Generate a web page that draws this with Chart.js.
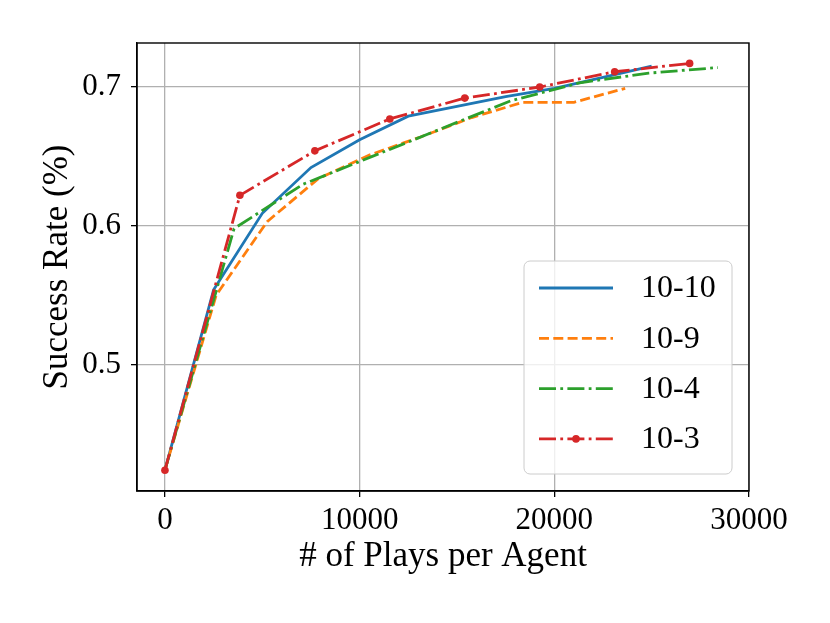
<!DOCTYPE html>
<html>
<head>
<meta charset="utf-8">
<script src="https://cdn.jsdelivr.net/npm/chart.js@4.4.1/dist/chart.umd.min.js"></script>
<style>
  html, body { margin: 0; padding: 0; background: #fff; }
  canvas { display: block; }
</style>
</head>
<body>
<canvas id="myChart" width="830" height="623"></canvas>
<script>
// values
const seriesNames = ["10-10", "10-9", "10-4", "10-3"];

const xBlue = [0, 2500, 5000, 7500, 10000, 12500, 15000, 17500, 20000, 22500, 25000];
const yBlue = [0.424, 0.554, 0.609, 0.642, 0.662, 0.679, 0.686, 0.693, 0.699, 0.707, 0.715];

const xOrange = [0, 2630, 5250, 7880, 10500, 13130, 15760, 18390, 21010, 23640];
const yOrange = [0.424, 0.550, 0.603, 0.634, 0.651, 0.664, 0.678, 0.689, 0.689, 0.699];

const xGreen = [0, 3550, 7100, 10650, 14200, 17750, 21300, 24850, 28400];
const yGreen = [0.424, 0.598, 0.630, 0.650, 0.670, 0.690, 0.703, 0.710, 0.714];

const xRed = [0, 3850, 7700, 11550, 15400, 19250, 23100, 26950];
const yRed = [0.424, 0.622, 0.654, 0.677, 0.692, 0.700, 0.711, 0.717];

const xTicks = [0, 10000, 20000, 30000];
const yTicks = [0.5, 0.6, 0.7];

const serif = "'Liberation Serif', 'DejaVu Serif', serif";
Chart.defaults.font.family = serif;
Chart.defaults.color = "#000";

function toPoints(xs, ys) {
  return xs.map((x, i) => ({ x: x, y: ys[i] }));
}

const data = {
  datasets: [
    {
      label: seriesNames[0],
      data: toPoints(xBlue, yBlue),
      borderColor: "#1f77b4",
      borderWidth: 2.8,
      pointRadius: 0,
      order: 3,
    },
    {
      label: seriesNames[1],
      data: toPoints(xOrange, yOrange),
      borderColor: "#ff7f0e",
      borderWidth: 2.8,
      borderDash: [10, 4.3],
      pointRadius: 0,
      order: 2,
    },
    {
      label: seriesNames[2],
      data: toPoints(xGreen, yGreen),
      borderColor: "#2ca02c",
      borderWidth: 2.8,
      borderDash: [17, 4.3, 2.8, 4.3],
      pointRadius: 0,
      order: 1,
    },
    {
      label: seriesNames[3],
      data: toPoints(xRed, yRed),
      borderColor: "#d62728",
      backgroundColor: "#d62728",
      borderWidth: 2.8,
      borderDash: [17, 4.3, 2.8, 4.3],
      pointRadius: 3.8,
      pointBorderWidth: 0,
      pointBackgroundColor: "#d62728",
      order: 0,
    },
  ],
};

// black box round the plot area
const framePlugin = {
  id: "frame",
  afterDatasetsDraw(chart) {
    const { ctx, chartArea: a } = chart;
    ctx.save();
    ctx.strokeStyle = "#000";
    ctx.lineWidth = 1.4;
    ctx.strokeRect(a.left, a.top, a.right - a.left, a.bottom - a.top);
    ctx.restore();
  },
};

// matplotlib-like legend in the lower right corner
const legendPlugin = {
  id: "mplLegend",
  afterDraw(chart) {
    const { ctx, chartArea: a } = chart;
    const w = 208, h = 213;
    const bx = a.right - 17 - w;
    const by = a.bottom - 17 - h;
    ctx.save();
    ctx.beginPath();
    ctx.roundRect(bx, by, w, h, 6);
    ctx.fillStyle = "rgba(255,255,255,0.8)";
    ctx.fill();
    ctx.strokeStyle = "#cccccc";
    ctx.lineWidth = 1;
    ctx.stroke();

    chart.data.datasets.forEach((ds, i) => {
      const y = by + 27 + i * 50.3;
      const x0 = bx + 15, x1 = bx + 89;
      ctx.beginPath();
      ctx.setLineDash(ds.borderDash || []);
      ctx.strokeStyle = ds.borderColor;
      ctx.lineWidth = ds.borderWidth;
      ctx.moveTo(x0, y);
      ctx.lineTo(x1, y);
      ctx.stroke();
      ctx.setLineDash([]);
      if (ds.pointRadius > 0) {
        ctx.beginPath();
        ctx.fillStyle = ds.pointBackgroundColor;
        ctx.arc((x0 + x1) / 2, y, ds.pointRadius, 0, Math.PI * 2);
        ctx.fill();
      }
      ctx.fillStyle = "#000";
      ctx.font = "32px " + serif;
      ctx.textBaseline = "middle";
      ctx.textAlign = "left";
      ctx.fillText(ds.label, bx + 117, y + 1);
    });
    ctx.restore();
  },
};

const config = {
  type: "line",
  data: data,
  options: {
    responsive: false,
    animation: false,
    devicePixelRatio: 1,
    layout: { padding: { left: 0, top: 43, right: 81, bottom: 0 } },
    plugins: {
      legend: { display: false },
      tooltip: { enabled: false },
    },
    elements: { line: { tension: 0 } },
    scales: {
      x: {
        type: "linear",
        position: "bottom",
        min: -1435,
        max: 30000,
        afterBuildTicks: (scale) => {
          scale.ticks = xTicks.map((v) => ({ value: v }));
        },
        afterFit: (scale) => {
          scale.height = 132;
        },
        ticks: {
          font: { size: 31 },
          padding: 5,
          maxRotation: 0,
          autoSkip: false,
          callback: (v) => String(v),
        },
        grid: {
          color: "#b0b0b0",
          lineWidth: 1.3,
          tickLength: 6,
          tickColor: "#000",
        },
        border: { color: "#000", width: 1.4 },
        title: {
          display: true,
          text: "# of Plays per Agent",
          font: { size: 35 },
          padding: { top: 0, bottom: 45 },
        },
      },
      y: {
        type: "linear",
        min: 0.409,
        max: 0.7317,
        afterBuildTicks: (scale) => {
          scale.ticks = yTicks.map((v) => ({ value: v }));
        },
        afterFit: (scale) => {
          scale.width = 137;
        },
        ticks: {
          font: { size: 31 },
          padding: 10,
          callback: (v) => v.toFixed(1),
        },
        grid: {
          color: "#b0b0b0",
          lineWidth: 1.3,
          tickLength: 6,
          tickColor: "#000",
        },
        border: { color: "#000", width: 1.4 },
        title: {
          display: true,
          text: "Success Rate (%)",
          font: { size: 35 },
          padding: { top: 37, bottom: 0 },
        },
      },
    },
  },
  plugins: [framePlugin, legendPlugin],
};

const myChart = new Chart(document.getElementById("myChart").getContext("2d"), config);
</script>
</body>
</html>
